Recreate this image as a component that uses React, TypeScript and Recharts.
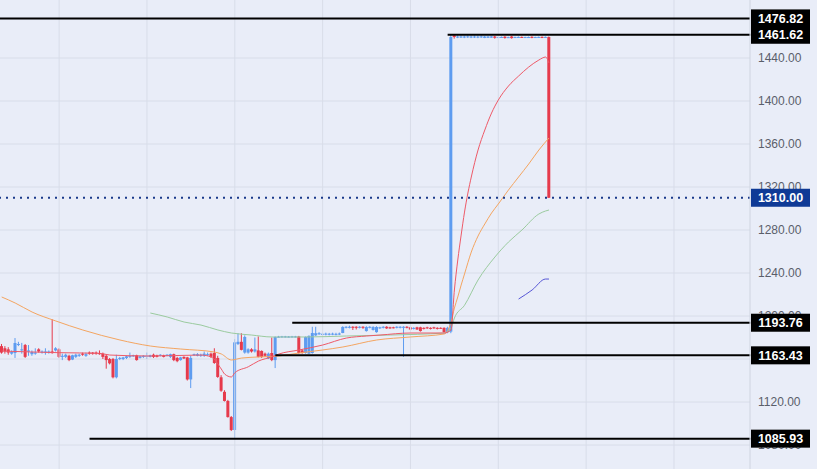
import React from "react";
import { ComposedChart, Bar, Line, XAxis, YAxis, CartesianGrid, ReferenceLine } from "recharts";

// Candles: [open, high, low, close], one per time slot
const ohlc: [number, number, number, number][] = [
  [1172, 1174, 1165, 1166], [1170, 1172, 1165, 1167], [1169, 1171, 1164, 1166], [1165, 1168, 1164, 1166.5],
  [1165.6, 1179.5, 1161, 1174.9], [1173, 1176, 1172, 1174], [1168, 1175, 1165, 1169], [1173, 1174, 1161, 1162],
  [1167, 1173, 1163, 1168], [1164.5, 1168, 1163, 1166.5], [1165, 1170, 1164, 1166], [1169, 1170, 1166, 1167],
  [1166, 1168, 1165, 1167], [1166, 1170, 1164, 1167], [1166, 1168, 1165, 1167], [1167, 1197, 1165, 1165.5],
  [1168, 1171, 1167, 1170], [1169, 1170, 1161, 1162], [1162, 1165, 1159, 1163], [1162, 1165, 1161, 1164],
  [1163, 1164, 1158, 1159], [1159.5, 1164, 1159, 1163.5], [1162, 1165, 1161, 1164], [1163, 1165, 1162, 1164],
  [1165, 1166, 1163, 1164], [1163, 1166, 1162, 1164.5], [1166, 1167, 1164, 1165], [1166, 1166.5, 1164, 1165],
  [1166, 1167, 1164, 1165], [1165.5, 1168, 1164, 1164.5], [1165, 1166, 1160, 1162], [1163, 1164, 1151, 1159],
  [1160, 1161, 1155, 1156], [1160, 1161, 1142, 1143], [1143, 1164, 1142, 1160], [1160, 1162, 1159, 1161],
  [1160, 1162, 1159, 1161.5], [1161, 1163, 1160, 1162.5], [1162, 1166, 1161, 1163], [1162.5, 1164, 1162, 1163.5],
  [1163.5, 1164, 1158.5, 1159], [1161, 1163, 1160.5, 1162.5], [1162, 1163.5, 1161, 1163], [1162, 1166, 1160, 1163],
  [1162, 1164, 1161.5, 1163.5], [1164, 1165, 1161, 1162], [1163.5, 1164, 1161.5, 1162], [1163, 1164.5, 1162.5, 1164],
  [1163.5, 1164, 1161.5, 1162], [1163, 1164.5, 1162.5, 1164], [1162, 1165, 1161, 1164.5], [1164.5, 1165, 1158, 1159],
  [1161, 1162, 1157, 1158], [1159, 1162, 1158.5, 1161.5], [1162, 1162.5, 1160, 1160.5], [1161.5, 1162, 1140, 1141],
  [1141, 1163, 1133, 1161], [1163.5, 1165, 1163, 1164.5], [1163, 1165.5, 1162.5, 1164.5], [1163, 1165, 1162, 1164],
  [1163, 1167, 1162, 1165], [1163.5, 1166, 1163, 1164.5], [1165, 1166, 1161, 1162], [1165.6, 1170, 1155.5, 1156.3],
  [1161, 1163, 1142.5, 1143.3], [1143, 1145, 1129.5, 1130.5], [1129.5, 1131, 1120.5, 1121], [1121, 1122, 1105.5, 1106],
  [1106, 1107, 1093, 1094], [1094, 1178.5, 1086, 1175.5], [1174, 1184, 1173, 1176], [1176, 1184, 1168, 1168.5],
  [1166, 1182, 1165, 1180.5], [1166, 1170, 1165, 1169], [1169, 1170, 1166, 1167], [1167, 1180, 1166, 1169],
  [1168, 1181, 1161.5, 1162], [1167.5, 1168, 1161, 1162], [1165, 1166, 1162, 1163], [1160.5, 1166, 1160, 1165],
  [1165.6, 1180, 1158, 1159], [1159, 1181, 1151.6, 1180.5], [1180.3, 1181.5, 1180, 1180.8], [1180.4, 1181.5, 1180, 1181],
  [1180.5, 1181.5, 1180, 1181], [1180.3, 1181.4, 1180, 1180.9], [1180.4, 1181.5, 1180, 1181], [1180.4, 1181.5, 1180, 1181],
  [1181, 1181.5, 1165, 1165.6], [1168, 1169, 1165, 1165.6], [1165.6, 1181, 1165, 1180.5], [1165, 1182, 1164.5, 1181.5],
  [1165.6, 1190, 1165, 1184.2], [1182, 1190, 1181.5, 1184], [1183, 1185, 1182.5, 1184], [1182.5, 1184.5, 1182, 1183.5],
  [1182.8, 1184.5, 1182, 1183.6], [1182.6, 1184.3, 1182, 1183.5], [1182.7, 1184.5, 1182.2, 1183.6], [1182.5, 1184.4, 1182, 1183.4],
  [1182.8, 1184.6, 1182.3, 1183.7], [1184.2, 1190.5, 1184, 1189.8], [1189, 1190.5, 1188.5, 1190], [1189, 1191, 1188.5, 1190],
  [1190, 1190.5, 1187, 1189], [1190, 1190.5, 1187.5, 1189], [1189, 1190.5, 1188.5, 1190], [1190, 1190.5, 1188, 1189],
  [1186, 1190.5, 1185.5, 1189.8], [1189, 1190.5, 1188.5, 1190], [1187, 1190.5, 1186.5, 1189.8], [1185, 1190.5, 1184.5, 1189.8],
  [1188.5, 1190, 1188, 1189.5], [1189, 1190.5, 1188.5, 1190], [1190, 1190.5, 1188, 1188.5], [1189.5, 1190, 1188, 1188.5],
  [1189.5, 1190, 1188.5, 1189], [1189, 1190.5, 1188.5, 1190], [1189, 1190.5, 1188.5, 1190], [1189, 1190.5, 1162, 1190],
  [1190, 1190.5, 1188.5, 1189], [1189.5, 1190, 1187, 1187.5], [1188, 1189.5, 1187.5, 1189], [1189.5, 1190, 1187, 1187.5],
  [1189.5, 1190, 1185.5, 1186], [1189, 1189.5, 1187.5, 1188], [1189.5, 1190, 1188, 1188.5], [1189, 1189.5, 1187.5, 1188],
  [1189.5, 1190, 1188, 1188.5], [1189, 1189.5, 1187.5, 1188], [1189, 1189.5, 1188, 1188.5], [1189, 1189.5, 1184.5, 1185],
  [1185, 1190, 1184, 1189], [1185.5, 1461.62, 1184, 1459.5], [1461, 1461.5, 1458, 1459.5], [1459, 1461, 1458.5, 1460],
  [1459.1, 1461, 1458.6, 1460], [1459, 1460.8, 1458.5, 1460], [1459.2, 1461, 1458.7, 1460.1], [1459, 1460.9, 1458.5, 1460],
  [1459.1, 1461, 1458.6, 1460], [1459, 1460.8, 1458.5, 1459.9], [1459.2, 1461, 1458.7, 1460.1], [1458.7, 1460.5, 1458.5, 1460],
  [1458.8, 1460.4, 1458.6, 1460], [1458.9, 1460.5, 1458.7, 1460.1], [1460, 1460.5, 1458, 1458.8], [1459, 1459.8, 1458.6, 1459.5],
  [1459.2, 1460, 1458.8, 1459.6], [1459.8, 1460.3, 1458, 1458.6], [1459, 1459.8, 1458.7, 1459.4], [1460, 1460.5, 1458, 1458.5],
  [1459.1, 1459.9, 1458.8, 1459.5], [1459.2, 1460, 1458.9, 1459.6], [1459.6, 1460, 1458.6, 1458.8], [1459, 1459.8, 1458.7, 1459.5],
  [1459.1, 1459.9, 1458.8, 1459.5], [1459.7, 1460.2, 1458.4, 1458.7], [1459, 1459.8, 1458.8, 1459.5], [1459.1, 1459.9, 1458.8, 1459.6],
  [1459.6, 1460.1, 1458.5, 1458.9], [1459, 1460, 1458.8, 1459.6], [1459.5, 1460, 1309.8, 1310],
];

const slotCount = 222;

// Moving averages: [slot, value]
const maFast: [number, number][] = [
  [0, 1167.4], [17, 1165.9], [29, 1165.3], [32, 1163.7], [44, 1162.8], [59, 1163.7], [62, 1161.9], [65, 1150.7],
  [66, 1146.0], [68, 1143.3], [69, 1147.2], [73, 1152.8], [76, 1158.1], [80, 1162.1], [82, 1164.6], [88, 1168.4],
  [95, 1173.0], [102, 1179.5], [108, 1181.4], [112, 1182.3], [121, 1184.2], [131, 1184.2], [133, 1187.0],
  [134, 1224.2], [135, 1252.1], [136, 1275.3], [137, 1296.7], [138, 1314.4], [139, 1329.3], [141, 1354.4],
  [143, 1373.0], [145, 1388.8], [147, 1400.9], [150, 1413.9], [153, 1423.2], [156, 1431.6], [159, 1438.1],
  [161, 1440.9], [162, 1435.3],
];
const maMid: [number, number][] = [
  [0, 1217.7], [4, 1212.1], [9, 1203.7], [16, 1195.4], [24, 1187.0], [35, 1177.7], [44, 1172.1], [53, 1169.3],
  [63, 1166.5], [65, 1164.7], [68, 1159.1], [71, 1160.9], [76, 1161.9], [82, 1162.8], [88, 1165.6], [95, 1168.4],
  [101, 1171.2], [111, 1177.7], [121, 1180.5], [131, 1183.3], [133, 1194.4], [134, 1207.4], [135, 1217.7],
  [136, 1228.8], [137, 1239.1], [139, 1259.5], [141, 1274.4], [143, 1285.6], [145, 1295.8], [147, 1304.2],
  [150, 1317.2], [153, 1329.3], [156, 1341.4], [159, 1354.4], [162, 1365.6],
];
const maSlow: [number, number][] = [
  [44, 1202.8], [49, 1199.1], [54, 1194.4], [59, 1191.6], [64, 1187.0], [68, 1184.2], [74, 1182.3], [80, 1180.5],
  [90, 1180.5], [102, 1181.4], [115, 1182.3], [131, 1184.2], [133, 1188.8], [134, 1198.1], [137, 1210.0],
  [141, 1233.5], [146, 1254.9], [150, 1268.8], [154, 1280.0], [159, 1294.9], [161, 1297.7], [162, 1298.6],
];
const maLong: [number, number][] = [
  [153, 1215.8], [157, 1224.2], [161, 1234.4], [162, 1234.4],
];

const yTicks = [1080, 1120, 1160, 1200, 1240, 1280, 1320, 1360, 1400, 1440];
const gridSlots = [17, 43, 69, 95, 121, 147, 173, 199];

// Price levels: value, first slot of the line (null = full width)
const levels: { value: number; from: number | null; dotted?: boolean }[] = [
  { value: 1476.82, from: null },
  { value: 1461.62, from: 132 },
  { value: 1193.76, from: 86 },
  { value: 1163.43, from: 81 },
  { value: 1085.93, from: 26 },
  { value: 1310.0, from: null, dotted: true },
];
const levelValues = levels.map((l) => l.value);
const currentPrice = 1310.0;

const BLUE = "#5e9cf0";
const RED = "#e63a4c";
const BG = "#e9edf8";
const GRID = "#d8dde9";
const FONT = "'Liberation Sans', Arial, sans-serif";

const data = Array.from({ length: slotCount }, (_, i) => {
  const c = ohlc[i];
  const row: any = { i };
  if (c) {
    row.open = c[0];
    row.high = c[1];
    row.low = c[2];
    row.close = c[3];
    row.range = [c[2], c[1]];
  }
  return row;
});
const put = (arr: [number, number][], key: string) => arr.forEach(([i, v]) => (data[i][key] = v));
put(maFast, "ma1");
put(maMid, "ma2");
put(maSlow, "ma3");
put(maLong, "ma4");

const Candle = (props: any) => {
  const { x, y, width, height, payload } = props;
  if (!payload || payload.high == null || !isFinite(y)) return null;
  const { open, close, high, low } = payload;
  const k = height / (high - low);
  const py = (v: number) => y + (high - v) * k;
  const color = close >= open ? BLUE : RED;
  const cx = x + width / 2;
  const top = py(Math.max(open, close));
  const bot = py(Math.min(open, close));
  return (
    <g>
      <line x1={cx} x2={cx} y1={y} y2={y + height} stroke={color} strokeWidth={1} />
      <rect x={x} y={top} width={width} height={Math.max(1, bot - top)} fill={color} />
    </g>
  );
};

// Axis tick: plain price text, or a filled price tag for the marked levels (drawn last)
const AxisTick = (props: any) => {
  const { x, y, payload } = props;
  const v = payload.value as number;
  if (levelValues.includes(v)) {
    const fill = v === currentPrice ? "#0f3a96" : "#000000";
    const left = x - 7;
    return (
      <g>
        <rect x={left} y={y - 9} width={59} height={18} fill={fill} />
        <text x={left + 29.5} y={y + 4.5} textAnchor="middle" fill="#ffffff" fontSize={12.5} fontWeight={700} fontFamily={FONT}>
          {v.toFixed(2)}
        </text>
      </g>
    );
  }
  return (
    <text x={x} y={y + 4} textAnchor="start" fill="#5a5e6a" fontSize={12} fontFamily={FONT}>
      {v.toFixed(2)}
    </text>
  );
};

const lastSlot = slotCount - 1;
const lineProps = { type: "monotone" as const, strokeWidth: 1, dot: false, activeDot: false, connectNulls: true, isAnimationActive: false };

export default function App() {
  return (
    <div style={{ position: "absolute", left: 0, top: 0, width: 817, height: 469, background: BG }}>
      <ComposedChart width={817} height={469} data={data} margin={{ top: 0, right: 0, bottom: 0, left: 0 }}>
        <CartesianGrid stroke={GRID} vertical={false} horizontalValues={yTicks} />
        <XAxis dataKey="i" type="category" hide />
        <YAxis
          orientation="right"
          width={67}
          domain={[1057.7, 1493.95]}
          allowDataOverflow
          ticks={[...yTicks, ...levelValues]}
          interval={0}
          tickLine={false}
          tickSize={6}
          tickMargin={2}
          axisLine={{ stroke: "#cfd4e0" }}
          tick={<AxisTick />}
        />
        {gridSlots.map((s) => (
          <ReferenceLine key={"g" + s} x={s} stroke={GRID} strokeWidth={1} />
        ))}
        <Bar dataKey="range" barSize={3} shape={<Candle />} isAnimationActive={false} />
        <Line dataKey="ma2" stroke="#f4a561" {...lineProps} />
        <Line dataKey="ma3" stroke="#9bcb9f" {...lineProps} />
        <Line dataKey="ma4" stroke="#5656d6" {...lineProps} />
        <Line dataKey="ma1" stroke="#ee5a68" {...lineProps} />
        {levels.map((l) =>
          l.from == null ? (
            <ReferenceLine
              key={"l" + l.value}
              y={l.value}
              stroke={l.dotted ? "#1a3a8a" : "#000000"}
              strokeWidth={2}
              strokeDasharray={l.dotted ? "2 5" : undefined}
            />
          ) : (
            <ReferenceLine
              key={"l" + l.value}
              segment={[{ x: l.from, y: l.value }, { x: lastSlot, y: l.value }]}
              stroke="#000000"
              strokeWidth={2}
              shape={(p: any) => <line x1={p.x1} y1={p.y1} x2={p.x2 + 2} y2={p.y2} stroke="#000000" strokeWidth={2} />}
            />
          )
        )}
      </ComposedChart>
    </div>
  );
}
